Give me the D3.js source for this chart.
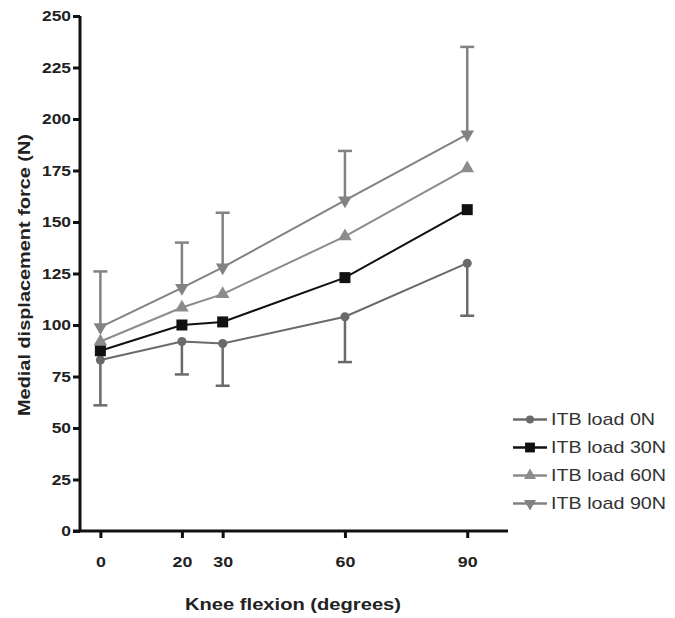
<!DOCTYPE html>
<html>
<head>
<meta charset="utf-8">
<script src="https://cdn.jsdelivr.net/npm/d3@7"></script>
<style>
  html, body { margin: 0; padding: 0; background: #fff; }
  svg { display: block; }
  text { font-family: "Liberation Sans", Arial, sans-serif; }
</style>
</head>
<body>
<svg id="chart" width="675" height="618"></svg>
<script>
// Knee flexion angles (degrees)
const flexion = [0, 20, 30, 60, 90];
const xTicks = [0, 20, 30, 60, 90];
const yTicks = [0, 25, 50, 75, 100, 125, 150, 175, 200, 225, 250];

// Mean medial displacement force (N) per ITB load
const load0N  = [83, 92, 91, 104, 130];
const load30N = [87.5, 100, 101.5, 123, 156];
const load60N = [92, 108.5, 115, 143, 176];
const load90N = [99, 118, 128, 160.5, 192.5];

// Error bar ends (0N drawn downward, 90N drawn upward)
const load0NLower  = [61, 76, 70.5, 82, 104.5];
const load90NUpper = [126, 140, 154.5, 184.5, 235];

const seriesNames = ["ITB load 0N", "ITB load 30N", "ITB load 60N", "ITB load 90N"];

const series = [
  { name: seriesNames[0], values: load0N,  color: "#6a6a6a", symbol: d3.symbolCircle,   size: 64,  rot: 0,   err: load0NLower },
  { name: seriesNames[1], values: load30N, color: "#111111", symbol: d3.symbolSquare,   size: 121, rot: 0,   err: null },
  { name: seriesNames[2], values: load60N, color: "#8c8c8c", symbol: d3.symbolTriangle, size: 80,  rot: 0,   err: null },
  { name: seriesNames[3], values: load90N, color: "#828282", symbol: d3.symbolTriangle, size: 80,  rot: 180, err: load90NUpper }
];

const svg = d3.select("#chart");

const x = d3.scaleLinear().domain([-5, 100]).range([80, 508]);
const y = d3.scaleLinear().domain([0, 250]).range([531, 16]);

// Horizontally widen a text element around its anchor x
function widen(sel, k) {
  sel.each(function () {
    const t = d3.select(this);
    const ax = +t.attr("x") || 0;
    t.attr("transform", `translate(${ax},0) scale(${k},1) translate(${-ax},0)`);
  });
}

// Axes
const yAxis = d3.axisLeft(y).tickValues(yTicks).tickSize(7).tickPadding(2);
const gy = svg.append("g").attr("transform", `translate(${x(-5)},0)`).call(yAxis);
const xAxis = d3.axisBottom(x).tickValues(xTicks).tickSize(7).tickPadding(18);
const gx = svg.append("g").attr("transform", `translate(0,${y(0)})`).call(xAxis);

[gx, gy].forEach(g => {
  g.select(".domain").attr("stroke", "#111").attr("stroke-width", 3);
  g.selectAll(".tick line").attr("stroke", "#111").attr("stroke-width", 3);
  g.selectAll(".tick text")
    .attr("fill", "#222")
    .style("font-weight", "bold")
    .style("font-family", "'Liberation Sans', Arial, sans-serif");
});
gy.selectAll(".tick text").style("font-size", "14.5px").call(widen, 1.2);
gx.selectAll(".tick text").style("font-size", "15.5px").call(widen, 1.15);

gx.select(".domain").attr("d", `M${x(-5) - 7},0H${x(100)}`);
gy.select(".domain").attr("d", `M0,${y(250)}V${y(0)}`);

// Axis titles
svg.append("text")
  .attr("x", 293).attr("y", 610)
  .attr("text-anchor", "middle")
  .attr("textLength", 216).attr("lengthAdjust", "spacingAndGlyphs")
  .style("font-size", "16.5px").style("font-weight", "bold").attr("fill", "#222")
  .text("Knee flexion (degrees)");

svg.append("text")
  .attr("transform", "translate(30,275) rotate(-90)")
  .attr("text-anchor", "middle")
  .attr("textLength", 282).attr("lengthAdjust", "spacingAndGlyphs")
  .style("font-size", "16px").style("font-weight", "bold").attr("fill", "#222")
  .text("Medial displacement force (N)");

const plot = svg.append("g");

// Error bars
series.forEach(s => {
  if (!s.err) return;
  const g = plot.append("g").attr("stroke", s.color).attr("stroke-width", 2.5);
  flexion.forEach((f, i) => {
    g.append("line")
      .attr("x1", x(f)).attr("x2", x(f))
      .attr("y1", y(s.values[i])).attr("y2", y(s.err[i]));
    g.append("line")
      .attr("x1", x(f) - 7).attr("x2", x(f) + 7)
      .attr("y1", y(s.err[i])).attr("y2", y(s.err[i]));
  });
});

// Lines
const line = d3.line().x((d, i) => x(flexion[i])).y(d => y(d));
series.forEach(s => {
  plot.append("path")
    .datum(s.values)
    .attr("d", line)
    .attr("fill", "none")
    .attr("stroke", s.color)
    .attr("stroke-width", 2);
});

// Markers
series.forEach(s => {
  const sym = d3.symbol().type(s.symbol).size(s.size);
  plot.append("g").selectAll("path")
    .data(s.values)
    .join("path")
    .attr("d", sym)
    .attr("fill", s.color)
    .attr("transform", (d, i) => `translate(${x(flexion[i])},${y(d)}) rotate(${s.rot})`);
});

// Legend
const legend = svg.append("g");
series.forEach((s, i) => {
  const ly = 419.5 + i * 28;
  const g = legend.append("g");
  g.append("line")
    .attr("x1", 513).attr("x2", 547).attr("y1", ly).attr("y2", ly)
    .attr("stroke", s.color).attr("stroke-width", 2.5);
  g.append("path")
    .attr("d", d3.symbol().type(s.symbol).size(s.size * 0.8)())
    .attr("fill", s.color)
    .attr("transform", `translate(530,${ly}) rotate(${s.rot})`);
  g.append("text")
    .attr("x", 551).attr("y", ly + 6)
    .style("font-size", "17px").attr("fill", "#333")
    .text(s.name)
    .call(widen, 1.16);
});
</script>
</body>
</html>
